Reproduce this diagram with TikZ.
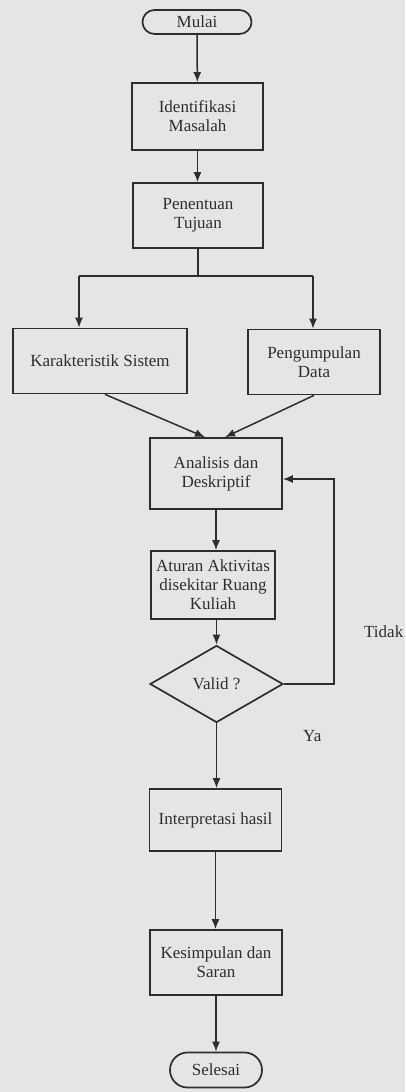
\documentclass[tikz,border=0pt]{standalone}
\usepackage{fontspec}
\setmainfont{Liberation Serif}
\usetikzlibrary{shapes.geometric,arrows.meta}
\definecolor{paper}{RGB}{229,229,227}
\definecolor{ink}{RGB}{45,45,45}
\begin{document}
\begin{tikzpicture}[x=1pt,y=-1pt,
  txt/.style={text=ink,font=\fontsize{17}{19}\selectfont},
  box/.style={txt,draw=ink,line width=1.7pt,align=center,inner sep=2pt},
  term/.style={txt,draw=ink,line width=1.7pt,inner sep=0pt,rounded corners=#1},
  dia/.style={txt,draw=ink,line width=1.7pt,diamond,inner sep=0pt,minimum width=133pt,minimum height=77pt},
  arr/.style={draw=ink,line width=1.5pt,-{Latex[length=10pt,width=8pt]}},
  ln/.style={draw=ink,line width=1.5pt},
  lbl/.style={txt,inner sep=0pt}]
\fill[paper] (0,0) rectangle (405,1092);
\useasboundingbox (0,0) rectangle (405,1092);

\node[term=12pt,minimum width=109pt,minimum height=24pt] (mulai) at (197,22) {Mulai};
\node[box,minimum width=131pt,minimum height=67pt] (ident) at (197.5,116.5) {Identifikasi\\Masalah};
\node[box,minimum width=130pt,minimum height=65pt] (tujuan) at (198,215.5) {Penentuan\\Tujuan};
\coordinate (jc) at (198,276);
\coordinate (jl) at (79,276);
\coordinate (jr) at (313,276);
\node[box,minimum width=174pt,minimum height=65pt] (karak) at (100,361) {Karakteristik Sistem};
\node[box,minimum width=132pt,minimum height=65pt] (data) at (314,362) {Pengumpulan\\Data};
\node[box,minimum width=132pt,minimum height=71pt] (anal) at (216,473.5) {Analisis dan\\Deskriptif};
\node[box,minimum width=124pt,minimum height=68pt] (atur) at (213,585) {Aturan Aktivitas\\disekitar Ruang\\Kuliah};
\node[dia] (valid) at (216.5,684) {Valid ?};
\node[box,minimum width=132pt,minimum height=62pt] (interp) at (215.5,820) {Interpretasi hasil};
\node[box,minimum width=132pt,minimum height=65pt] (kesim) at (216,962.5) {Kesimpulan dan\\Saran};
\node[term=17.5pt,minimum width=92pt,minimum height=35pt] (selesai) at (216,1070) {Selesai};

\node[lbl,anchor=west] (tidak) at (364,632) {Tidak};
\node[lbl,anchor=west] (ya) at (303,736) {Ya};

\draw[arr] (mulai) -- (ident);
\draw[arr] (ident.south) -- (ident.south |- tujuan.north);
\draw[ln] (tujuan.south) -- (jc);
\draw[ln] (jl) -- (jr);
\draw[arr] (jl) -- (jl |- karak.north);
\draw[arr] (jr) -- (jr |- data.north);
\draw[arr] ([xshift=5pt]karak.south) -- ([xshift=-11pt]anal.north);
\draw[arr] (data.south) -- ([xshift=9pt]anal.north);
\draw[arr] (anal.south) -- (anal.south |- atur.north);
\draw[arr] (valid.north |- atur.south) -- (valid.north);
\draw[arr] (valid.south) -- (valid.south |- interp.north);
\draw[arr] (interp.south) -- (interp.south |- kesim.north);
\draw[arr] (kesim.south) -- (kesim.south |- selesai.north);
\draw[arr] (valid.east) -- ++(50,0) coordinate (lc) |- ([yshift=-5.5pt]anal.east);
\end{tikzpicture}
\end{document}
